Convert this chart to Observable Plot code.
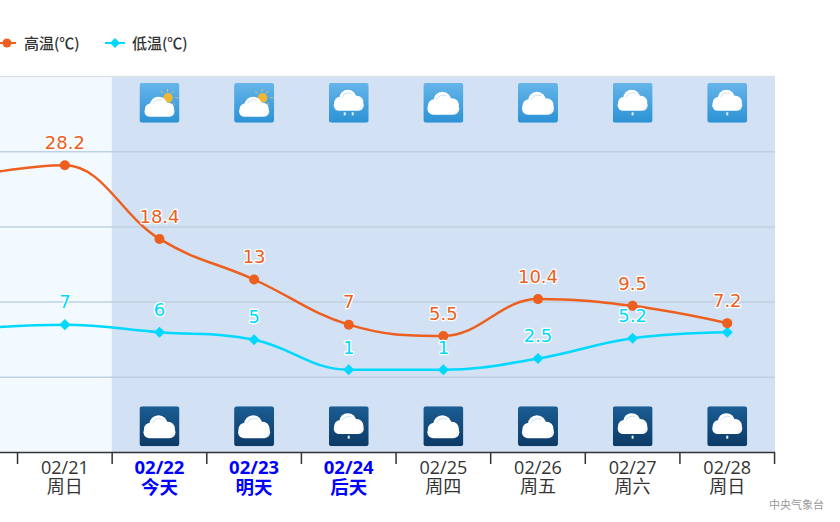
<!DOCTYPE html>
<html><head><meta charset="utf-8">
<script src="https://cdn.jsdelivr.net/npm/d3@7"></script>
<script src="https://cdn.jsdelivr.net/npm/@observablehq/plot@0.6"></script>
<style>
html,body{margin:0;padding:0;background:#fff;overflow:hidden}
#wrap{position:relative;width:840px;height:522px;font-family:"Noto Sans CJK SC","Noto Sans",sans-serif}
#legend{position:absolute;left:0;top:33px;height:20px;font-size:15px;font-weight:500;color:#333;line-height:20px}
#legend span{position:absolute;top:0;white-space:nowrap}
#legend svg{position:absolute;top:3px}
#chart{position:absolute;left:0;top:74px;height:448px;width:840px}
#chart svg{display:block}
#credit{position:absolute;left:769px;top:496px;font-size:11px;color:#999;white-space:nowrap}
</style></head><body>
<div id="wrap">
<div id="legend">
<svg width="16" height="14" style="left:0"><line x1="0" x2="16" y1="7" y2="7" stroke="#ec5f1e" stroke-width="2"/><circle cx="7" cy="7" r="4.5" fill="#ec5f1e"/></svg><span style="left:24px">高温(℃)</span>
<svg width="20" height="14" style="left:105px"><line x1="0" x2="20" y1="7" y2="7" stroke="#00d8ff" stroke-width="2"/><path d="M10 2L15 7L10 12L5 7Z" fill="#00d8ff"/></svg><span style="left:132px">低温(℃)</span>
</div>
<div id="chart"></div>
<div id="credit">中央气象台</div>
</div>
<script>
const days = [20,21,22,23,24,25,26,27,28];
const dates = ["02/20","02/21","02/22","02/23","02/24","02/25","02/26","02/27","02/28"];
const weeks = ["周六","周日","今天","明天","后天","周四","周五","周六","周日"];
const highs = [26.7,28.2,18.4,13,7,5.5,10.4,9.5,7.2];
const lows  = [6.4,7,6,5,1,1,2.5,5.2,6];
const highLabels = ["26.7","28.2","18.4","13","7","5.5","10.4","9.5","7.2"];
const lowLabels  = ["6.4","7","6","5","1","1","2.5","5.2",""];
const highlighted = [22,23,24];
const bands = [{a:20.32,b:21.5,c:"#f3faff"},{a:21.5,b:28.51,c:"#d2e2f4"}];
const gridValues = [0,10,20,30];
const topIcons = ["sun","sun","rain2","cloud","cloud","rain1","rain1"];
const bottomIcons = ["cloud","cloud","rain1","cloud","cloud","rain1","rain1"];
const iconDays = [22,23,24,25,26,27,28];
const boundaries = [20.5,21.5,22.5,23.5,24.5,25.5,26.5,27.5,28.5];

// Spline with horizontal tangents at local extrema and 0.4-length handles.
function splineCurve(context){
  let pts;
  return {
    lineStart(){pts=[];},
    lineEnd(){
      const n=pts.length, L=[], R=[];
      for(let i=1;i<n-1;i++){
        const [x,y]=pts[i],[lx,ly]=pts[i-1],[nx,ny]=pts[i+1];
        const lcx=(1.5*x+lx)/2.5, rcx=(1.5*x+nx)/2.5;
        let lcy=(1.5*y+ly)/2.5, rcy=(1.5*y+ny)/2.5;
        const c=((rcy-lcy)*(rcx-x))/(rcx-lcx)+y-rcy;
        lcy+=c; rcy+=c;
        if(lcy>ly&&lcy>y){lcy=Math.max(ly,y);rcy=2*y-lcy;}
        else if(lcy<ly&&lcy<y){lcy=Math.min(ly,y);rcy=2*y-lcy;}
        if(rcy>ny&&rcy>y){rcy=Math.max(ny,y);lcy=2*y-rcy;}
        else if(rcy<ny&&rcy<y){rcy=Math.min(ny,y);lcy=2*y-rcy;}
        L[i]=[lcx,lcy]; R[i]=[rcx,rcy];
      }
      context.moveTo(pts[0][0],pts[0][1]);
      for(let i=1;i<n;i++){
        const a=R[i-1]||pts[i-1], b=L[i]||pts[i];
        context.bezierCurveTo(a[0],a[1],b[0],b[1],pts[i][0],pts[i][1]);
      }
    },
    point(x,y){pts.push([+x,+y]);}
  };
}

function icon(kind, dark){
  const g = dark ? ["#1a5d94","#0d3a66"] : ["#66b5ea","#2b92d4"];
  const sun = kind==="sun", rain = kind==="rain1"||kind==="rain2";
  const t = sun ? "translate(5,14) scale(0.94,0.87)" : rain ? "translate(5,7) scale(0.94,0.91)" : "translate(4,9)";
  const cloud = `<g transform="${t}" fill="url(#c)"><rect x="0" y="11" width="32" height="12" rx="6"/><circle cx="15" cy="9" r="9"/><circle cx="24.5" cy="13.5" r="7"/><circle cx="7" cy="14" r="6.5"/></g><g transform="${t}"><path d="M9 8a7.5 7.5 0 0 1 10-4" fill="none" stroke="#b9d8f2" stroke-width="0.8"/></g>`;
  const sunG = sun ? `<g stroke="#d8c27a" stroke-width="1"><path d="M28 6v3M36 15h3M21 8l2.5 2.5M34.5 8l-2.5 2.5M35 22l-2-2"/></g><circle cx="28.5" cy="15" r="4.8" fill="#f2b632"/>` : "";
  const drops = kind==="rain1" ? `<rect x="19" y="29.5" width="2" height="3" fill="#e6f0f8"/>` : kind==="rain2" ? `<rect x="15" y="29.5" width="2" height="3" fill="#e6f0f8"/><rect x="23" y="29.5" width="2" height="3" fill="#e6f0f8"/>` : "";
  const svg = `<svg xmlns="http://www.w3.org/2000/svg" width="40" height="40"><defs><linearGradient id="g" x1="0" y1="0" x2="0" y2="1"><stop offset="0" stop-color="${g[0]}"/><stop offset="1" stop-color="${g[1]}"/></linearGradient><linearGradient id="c" gradientUnits="userSpaceOnUse" x1="12" y1="8" x2="32" y2="24"><stop offset="0.7" stop-color="#fff"/><stop offset="1" stop-color="#dfe3e8"/></linearGradient></defs><rect width="40" height="40" rx="3" fill="url(#g)"/>${sunG}${cloud}${drops}</svg>`;
  return "data:image/svg+xml;utf8," + encodeURIComponent(svg);
}
const series = days.map((d,i)=>({d,high:highs[i],low:lows[i],hl:highLabels[i],ll:lowLabels[i],label:dates[i]+"\n"+weeks[i]}));
const visible = series.slice(1);
const iconRows = iconDays.map((d,i)=>({d,top:icon(topIcons[i],false),bottom:icon(bottomIcons[i],true)}));
const tickText = d => { const s = series.find(r=>r.d===d); return s ? s.label : ""; };
const labelFont = '"DejaVu Sans",sans-serif';
const axisFont = '"Open Sans","Noto Sans CJK SC",sans-serif';

const plot = Plot.plot({
  width:840, height:448, marginLeft:0, marginRight:65, marginTop:2, marginBottom:70,
  style:{background:"transparent"},
  x:{type:"linear",domain:[20.32,28.51],axis:null},
  y:{domain:[-10,40],axis:null},
  marks:[
    Plot.rect(bands,{x1:"a",x2:"b",y1:-10,y2:40,fill:"c"}),
    Plot.ruleY([40],{stroke:"#d9e2ea",strokeWidth:1.5}),
    Plot.ruleY(gridValues,{stroke:"#bfd0e2",strokeWidth:1.5}),
    Plot.image(iconRows,{x:"d",y:36.5,src:"top",width:40,height:40}),
    Plot.image(iconRows,{x:"d",y:-6.5,src:"bottom",width:40,height:40}),
    Plot.line(series,{x:"d",y:"low",stroke:"#00d8ff",strokeWidth:2.5,curve:splineCurve,clip:true}),
    Plot.line(series,{x:"d",y:"high",stroke:"#ec5f1e",strokeWidth:2.5,curve:splineCurve,clip:true}),
    Plot.dot(visible,{x:"d",y:"low",symbol:"diamond2",r:5,fill:"#00d8ff"}),
    Plot.dot(visible,{x:"d",y:"high",r:5,fill:"#ec5f1e"}),
    Plot.text(visible,{x:"d",y:"low",text:"ll",dy:-22,fill:"#00d8ff",stroke:"#fff",strokeWidth:2.5,fontSize:18,fontFamily:labelFont}),
    Plot.text(visible,{x:"d",y:"high",text:"hl",dy:-22,fill:"#ec5f1e",stroke:"#fff",strokeWidth:2.5,fontSize:18,fontFamily:labelFont}),
    Plot.ruleY([-10],{stroke:"#333",strokeWidth:1.5}),
    Plot.axisX({ticks:boundaries,tickSize:12,tickFormat:()=>"",stroke:"#333",strokeWidth:1.5}),
    Plot.axisX({ticks:days.filter(d=>d>=21&&!highlighted.includes(d)),tickSize:0,tickPadding:8,tickFormat:tickText,lineHeight:1.05,fontSize:18,fill:"#333",fontFamily:axisFont,fontWeight:400}),
    Plot.axisX({ticks:highlighted,tickSize:0,tickPadding:8,tickFormat:tickText,lineHeight:1.05,fontSize:18.5,fill:"#0000ff",fontFamily:axisFont,fontWeight:700})
  ]
});
document.getElementById("chart").appendChild(plot);
</script>
</body></html>
